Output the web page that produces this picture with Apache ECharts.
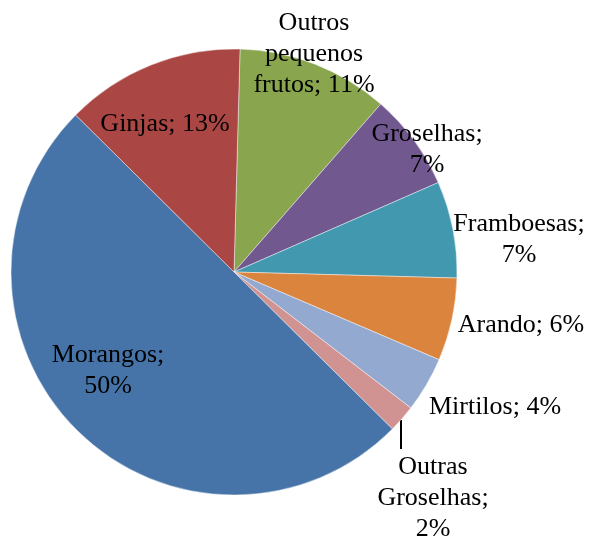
<!DOCTYPE html>
<html>
<head>
<meta charset="utf-8">
<title>Pequenos frutos</title>
<script src="https://cdn.jsdelivr.net/npm/echarts@6/dist/echarts.min.js"></script>
<style>
  html, body { margin: 0; padding: 0; background: #fff; }
  #chart { width: 590px; height: 537px; }
</style>
</head>
<body>
<div id="chart"></div>
<script>
// Share of production by fruit (%), clockwise from the top
const categories = ['Outros pequenos frutos', 'Groselhas', 'Framboesas', 'Arando', 'Mirtilos', 'Outras Groselhas', 'Morangos', 'Ginjas'];
const values = [11, 7, 7, 6, 4, 2, 50, 13];
// Label text with its line breaks; {p} is replaced by the computed percentage
const labelTemplates = [
  'Outros\npequenos\nfrutos; {p}',
  'Groselhas;\n{p}',
  'Framboesas;\n{p}',
  'Arando; {p}',
  'Mirtilos; {p}',
  'Outras\nGroselhas;\n{p}',
  'Morangos;\n{p}',
  'Ginjas; {p}'
];
const colors = ['#89A54E', '#71588F', '#4298AF', '#DB843D', '#93A9D0', '#D19392', '#4674A8', '#AA4644'];

// Label anchor points (block centres) in pixels
const labelAnchors = [
  [314, 54], [427, 150], [519, 240], [521, 325],
  [495, 407], [433, 498], [108, 371], [165, 124]
];

const chart = echarts.init(document.getElementById('chart'), null, { renderer: 'canvas' });

const data = categories.map((name, i) => ({
  name: name,
  value: values[i],
  itemStyle: { color: colors[i] },
  labelLine: { show: i === 5 }
}));

chart.setOption({
  animation: false,
  backgroundColor: '#ffffff',
  series: [{
    type: 'pie',
    center: [234, 272],
    radius: [0, 223],
    startAngle: 88.45,
    clockwise: true,
    avoidLabelOverlap: false,
    data: data,
    itemStyle: { borderColor: 'rgba(255,255,255,0.55)', borderWidth: 0.8 },
    label: {
      show: true,
      position: 'outside',
      fontFamily: 'Liberation Serif',
      fontSize: 26,
      lineHeight: 31,
      color: '#000',
      formatter: function (p) {
        return labelTemplates[p.dataIndex].replace('{p}', Math.round(p.percent) + '%');
      }
    },
    labelLine: {
      show: false,
      lineStyle: { color: '#000', width: 2 }
    },
    labelLayout: function (params) {
      const a = labelAnchors[params.dataIndex];
      const out = { x: a[0], y: a[1], align: 'center', verticalAlign: 'middle' };
      if (params.dataIndex === 5) {
        out.labelLinePoints = [[401, 420], [401, 434], [401, 449]];
      }
      return out;
    }
  }]
});
</script>
</body>
</html>
